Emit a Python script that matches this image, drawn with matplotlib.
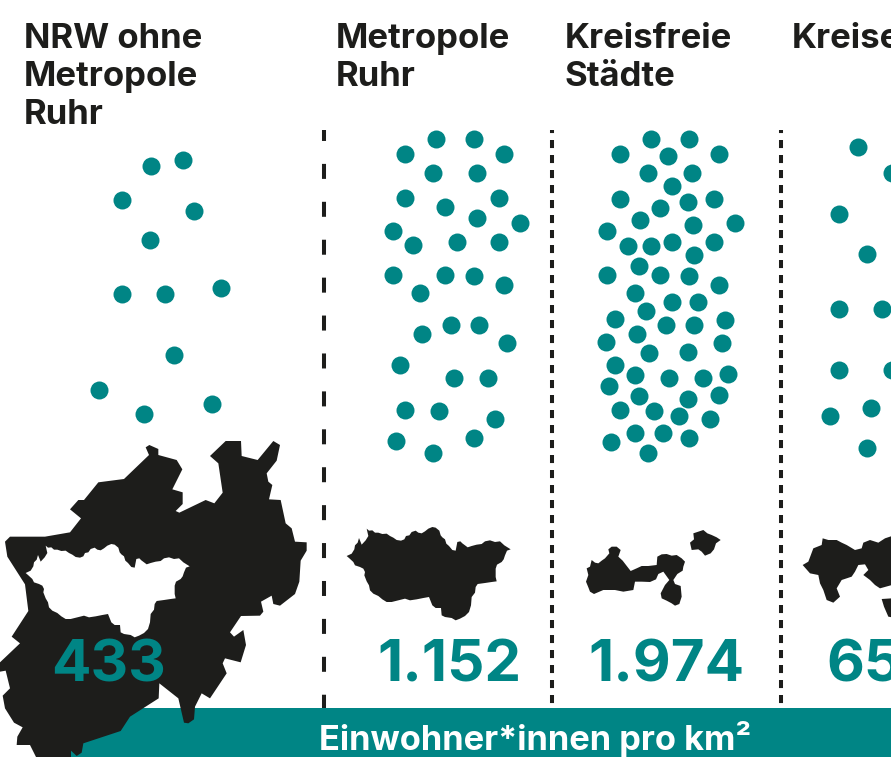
import matplotlib
matplotlib.use("Agg")
import matplotlib.pyplot as plt
from matplotlib.patches import Polygon, Rectangle

TEAL = "#008585"
DARK = "#1d1d1b"

plt.rcParams['font.family'] = ['Inter', 'DejaVu Sans']
plt.rcParams['lines.scale_dashes'] = False

# Werte: Punkte je Spalte, Position
dots_nrw_x = [151, 183, 122, 194, 150, 122, 165, 221, 174, 99, 144, 212]
dots_nrw_y = [166, 160, 200, 211, 240, 294, 294, 288, 355, 390, 414, 404]

dots_ruhr_x = [436, 474, 405, 504, 433, 477, 405, 499, 445, 477, 520, 393, 413, 457, 499, 393, 445,
               474, 504, 420, 422, 451, 479, 507, 400, 454, 488, 405, 439, 495, 474, 396, 433]
dots_ruhr_y = [139, 139, 154, 154, 173, 173, 198, 198, 207, 218, 223, 231, 245, 242, 242, 275, 275,
               276, 285, 293, 334, 325, 325, 343, 365, 378, 378, 410, 411, 419, 438, 441, 453]

dots_staedte_x = [651, 689, 620, 668, 719, 648, 692, 672, 620, 688, 714, 660, 640, 693, 735, 607, 628, 651, 672,
                  714, 694, 639, 607, 660, 689, 719, 635, 672, 698, 646, 615, 666, 694, 725, 637, 606, 722, 649,
                  688, 615, 635, 669, 703, 728, 609, 639, 688, 719, 620, 654, 679, 710, 635, 663, 689, 611, 648]
dots_staedte_y = [139, 139, 154, 156, 154, 173, 173, 186, 199, 202, 199, 208, 220, 225, 223, 231, 246, 246, 242,
                  242, 255, 266, 275, 275, 276, 285, 293, 302, 302, 311, 319, 325, 325, 320, 334, 342, 343, 353,
                  352, 365, 375, 378, 378, 374, 386, 396, 399, 395, 410, 411, 416, 419, 433, 433, 438, 442, 453]

dots_kreise_x = [858, 839, 867, 839, 882, 839, 892, 830, 871, 867, 892]
dots_kreise_y = [147, 214, 254, 309, 309, 370, 370, 416, 408, 448, 173]

titles = [["NRW ohne", "Metropole", "Ruhr"], ["Metropole", "Ruhr"], ["Kreisfreie", "Städte"], ["Kreise"]]
title_x = [24, 336, 565, 792]
values = ["433", "1.152", "1.974", "65"]
value_x = [108, 449, 666, 826]
band_label = "Einwohner*innen pro km²"

ruhr_zoom = [(65, 20), (72, 26), (82, 25), (90, 32), (100, 32), (112, 36), (125, 35), (135, 42), (145, 47), (155, 54),
             (168, 56), (178, 52), (183, 42), (193, 40), (200, 30), (212, 26), (220, 32), (230, 34), (240, 28), (250, 20),
             (262, 15), (272, 17), (283, 26), (287, 40), (292, 46), (300, 52), (304, 65), (312, 72), (322, 84), (332, 86),
             (337, 60), (346, 58), (352, 64), (360, 70), (368, 76), (380, 72), (395, 68), (410, 66), (420, 58), (435, 55),
             (450, 60), (465, 58), (478, 70), (497, 82), (486, 86), (480, 100), (476, 112), (470, 120), (456, 128),
             (452, 140), (452, 165), (455, 178), (440, 180), (420, 183), (398, 186), (392, 195), (390, 212), (380, 225),
             (378, 250), (372, 270), (360, 282), (345, 290), (332, 295), (320, 288), (300, 285), (290, 280), (288, 258),
             (272, 258), (262, 250), (252, 225), (235, 228), (215, 232), (195, 235), (180, 230), (160, 235), (140, 240),
             (125, 240), (112, 232), (100, 222), (85, 215), (75, 205), (72, 190), (65, 178), (58, 160), (60, 150), (55, 140),
             (45, 135), (30, 130), (25, 120), (12, 108), (5, 102), (20, 95), (28, 82), (30, 70), (38, 62), (42, 48), (50, 68),
             (62, 55), (70, 42)]
ruhr_shape = [(345 + x / 3, 522 + y / 3) for x, y in ruhr_zoom]
white_ruhr = [(x - 321, y + 17) for x, y in ruhr_shape]

nrw_zoom = [(437, 52), (448, 45), (475, 57), (475, 75), (530, 90), (547, 118), (517, 178), (548, 187), (548, 222), (527, 243),
            (538, 248), (617, 210), (643, 220), (668, 188), (655, 100), (630, 78), (677, 33), (723, 33), (725, 78), (773, 90),
            (820, 33), (840, 45), (830, 92), (800, 130), (805, 155), (817, 165), (807, 208), (842, 210), (857, 280), (875, 295),
            (885, 335), (920, 337), (920, 362), (902, 392), (898, 455), (885, 492), (840, 527), (820, 522), (815, 497),
            (783, 515), (790, 545), (780, 557), (723, 558), (690, 607), (702, 620), (730, 600), (738, 645), (722, 697),
            (675, 685), (668, 700), (680, 730), (630, 805), (605, 790), (585, 830), (582, 868), (565, 880), (552, 878),
            (535, 805), (478, 760), (476, 805), (390, 860), (362, 903), (250, 940), (245, 968), (230, 978), (213, 962),
            (213, 985), (110, 985), (90, 945), (50, 945), (52, 920), (68, 892), (42, 878), (15, 835), (8, 797), (30, 775),
            (17, 722), (0, 725), (0, 697), (60, 640), (35, 620), (85, 543), (75, 463), (22, 380), (15, 335), (30, 320),
            (135, 320), (210, 307), (243, 265), (210, 238), (235, 210), (252, 210), (295, 157), (372, 147), (447, 75)]
nrw_shape = [(x / 3, 430 + y / 3) for x, y in nrw_zoom]

staedte_zoom = [(740, 175), (750, 170), (755, 150), (765, 158), (775, 160), (785, 152), (795, 145), (808, 130), (805, 118),
                (815, 110), (830, 110), (842, 120), (835, 140), (848, 152), (858, 165), (872, 183), (890, 175), (905, 168),
                (925, 168), (950, 165), (952, 140), (965, 133), (980, 132), (995, 137), (1010, 135), (1025, 145), (1035, 155),
                (1030, 170), (1028, 182), (1012, 192), (1000, 210), (1005, 222), (1022, 228), (1025, 260), (1018, 282),
                (1005, 287), (995, 280), (980, 272), (965, 265), (962, 250), (975, 225), (988, 210), (970, 185), (955, 192),
                (948, 208), (930, 216), (905, 215), (885, 215), (880, 240), (850, 245), (825, 240), (790, 240), (762, 252),
                (750, 245), (745, 232), (738, 215), (745, 195)]
staedte_shape = [(340 + x / 3, 510 + y / 3) for x, y in staedte_zoom]
insel_zoom = [(1060, 70), (1075, 65), (1090, 60), (1102, 70), (1115, 75), (1130, 82), (1142, 90), (1128, 100), (1122, 118),
              (1112, 130), (1095, 137), (1085, 125), (1075, 118), (1055, 120), (1050, 98), (1062, 88)]
staedte_insel = [(340 + x / 3, 510 + y / 3) for x, y in insel_zoom]

kreise_zoom = [(128, 55), (145, 60), (170, 60), (185, 68), (200, 75), (225, 90), (245, 85), (250, 68), (270, 60), (295, 68),
               (315, 55), (336, 48), (336, 195), (300, 205), (285, 195), (270, 180), (250, 165), (265, 150), (255, 133),
               (235, 135), (225, 155), (215, 170), (185, 180), (170, 205), (180, 230), (160, 248), (140, 240), (130, 210),
               (120, 190), (115, 165), (90, 160), (68, 135), (85, 125), (100, 85), (125, 75)]
kreise_shape = [(780 + x / 3, 520 + y / 3) for x, y in kreise_zoom]
kreise_insel_zoom = [(305, 237), (336, 235), (336, 292), (325, 290), (312, 260)]
kreise_insel = [(780 + x / 3, 520 + y / 3) for x, y in kreise_insel_zoom]

fig = plt.figure(figsize=(8.91, 7.57), dpi=100)
ax = fig.add_axes([0, 0, 1, 1])
ax.set_xlim(0, 891)
ax.set_ylim(757, 0)
ax.axis("off")

# Band unten
ax.add_patch(Rectangle((60, 708), 831, 49, color=TEAL, lw=0, zorder=1))

# Karten
ax.add_patch(Polygon(nrw_shape, color=DARK, lw=0, zorder=2))
ax.add_patch(Polygon(white_ruhr, color="white", lw=0, zorder=3))
for shape in [ruhr_shape, staedte_shape, staedte_insel, kreise_shape, kreise_insel]:
    ax.add_patch(Polygon(shape, color=DARK, lw=0, zorder=2))

# Trennlinien
ax.plot([323.7, 323.7], [130, 708], color=DARK, lw=2.9, linestyle=(2.9, (10.8, 16.5)), zorder=1)
for x in [552, 780.5]:
    ax.plot([x, x], [130, 708], color=DARK, lw=2.9, linestyle=(3.6, (5.8, 5)), zorder=1)

# Punkte
for xs, ys in [(dots_nrw_x, dots_nrw_y), (dots_ruhr_x, dots_ruhr_y),
               (dots_staedte_x, dots_staedte_y), (dots_kreise_x, dots_kreise_y)]:
    ax.scatter(xs, ys, s=168, color=TEAL, linewidths=0, zorder=4)

# Texte
for lines, x in zip(titles, title_x):
    for i, line in enumerate(lines):
        ax.text(x, 48 + i * 38, line, fontsize=25, fontweight="bold", color=DARK, va="baseline", ha="left", zorder=5)

for i, (v, x) in enumerate(zip(values, value_x)):
    ha = "left" if i == 3 else "center"
    ax.text(x, 682, v, fontsize=42, fontweight="bold", color=TEAL, ha=ha, va="baseline", zorder=5)

ax.text(535, 750, band_label, fontsize=24.8, fontweight="bold", color="white", ha="center", va="baseline", zorder=5)

fig.savefig("out.png", dpi=100)
